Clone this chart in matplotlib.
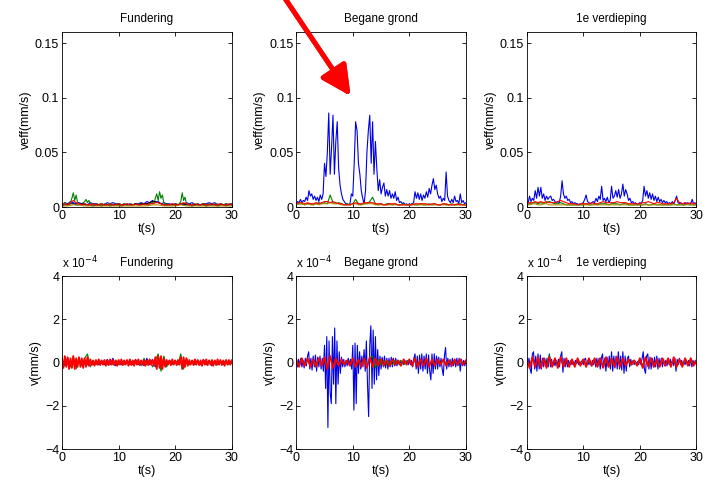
import matplotlib
matplotlib.use("Agg")
import matplotlib.pyplot as plt
import numpy as np

plt.rcParams['font.family'] = ['Liberation Sans', 'DejaVu Sans']

titles = ["Fundering", "Begane grond", "1e verdieping"]
t_max = 30

# ---------------- top row: veff (mm/s) ----------------
fund_veff_blue = [0.002, 0.004, 0.003, 0.005, 0.004, 0.003, 0.004, 0.003, 0.003, 0.002,
                  0.004, 0.003, 0.003, 0.002, 0.003, 0.002, 0.004, 0.003, 0.004, 0.003,
                  0.003, 0.002, 0.003, 0.002, 0.003, 0.002, 0.003, 0.003, 0.004, 0.003,
                  0.005, 0.004, 0.006, 0.004, 0.005, 0.003, 0.004, 0.003, 0.003, 0.002,
                  0.003, 0.002, 0.003, 0.002, 0.004, 0.003, 0.004, 0.002, 0.003, 0.002,
                  0.003, 0.003, 0.004, 0.003, 0.004, 0.002, 0.003, 0.002, 0.003, 0.002, 0.003]
fund_veff_green = [0.002, 0.003, 0.004, 0.003, 0.002, 0.003, 0.004,
                   0.008, 0.013, 0.006, 0.011, 0.004,
                   0.003, 0.002, 0.003, 0.004, 0.005, 0.007, 0.004, 0.006, 0.003,
                   0.002, 0.003, 0.002, 0.002, 0.003, 0.002, 0.003, 0.002, 0.002, 0.003,
                   0.002, 0.002, 0.003, 0.002, 0.003, 0.002, 0.002, 0.003, 0.002, 0.002,
                   0.003, 0.002, 0.002, 0.003, 0.002, 0.003, 0.002, 0.002, 0.003, 0.002,
                   0.002, 0.003, 0.002, 0.003, 0.002, 0.002, 0.003, 0.002, 0.003, 0.003,
                   0.002, 0.003, 0.003, 0.004, 0.003,
                   0.008, 0.012, 0.006, 0.014, 0.008, 0.011, 0.004,
                   0.003, 0.002, 0.003, 0.002, 0.002, 0.003, 0.002, 0.002, 0.003, 0.002, 0.003,
                   0.005, 0.013, 0.006, 0.009, 0.003,
                   0.002, 0.003, 0.002, 0.002, 0.003, 0.002, 0.002, 0.003, 0.002, 0.002,
                   0.003, 0.002, 0.003, 0.002, 0.002, 0.003, 0.002, 0.002, 0.003, 0.002,
                   0.002, 0.003, 0.002, 0.002, 0.003, 0.002, 0.002, 0.003, 0.002, 0.002,
                   0.003, 0.002]
fund_veff_black = [0.001, 0.002, 0.002, 0.003, 0.003, 0.002, 0.002, 0.003, 0.002, 0.002,
                   0.002, 0.001, 0.002, 0.002, 0.001, 0.002, 0.002, 0.001, 0.002, 0.002,
                   0.002, 0.001, 0.002, 0.002, 0.002, 0.002, 0.003, 0.002, 0.003, 0.003,
                   0.003, 0.004, 0.005, 0.005, 0.004, 0.003, 0.002, 0.002, 0.002, 0.002,
                   0.002, 0.002, 0.003, 0.003, 0.002, 0.002, 0.001, 0.002, 0.002, 0.002,
                   0.002, 0.001, 0.002, 0.002, 0.002, 0.001, 0.002, 0.002, 0.001, 0.002, 0.002]
fund_veff_olive = [0.001, 0.001, 0.002, 0.002, 0.001, 0.001, 0.001, 0.001, 0.001, 0.001,
                   0.001, 0.001, 0.001, 0.001, 0.001, 0.001, 0.002, 0.002, 0.001, 0.001,
                   0.001, 0.002, 0.001, 0.001, 0.001, 0.001, 0.001, 0.001, 0.001, 0.001, 0.001]
fund_veff_red = [0.002, 0.003, 0.002, 0.004, 0.006, 0.004, 0.003, 0.002, 0.003, 0.002,
                 0.002, 0.003, 0.002, 0.002, 0.003, 0.002, 0.002, 0.003, 0.002, 0.002,
                 0.003, 0.002, 0.002, 0.003, 0.002, 0.002, 0.003, 0.002, 0.002, 0.003,
                 0.002, 0.003, 0.003, 0.004, 0.004, 0.003, 0.002, 0.002, 0.002, 0.003,
                 0.002, 0.002, 0.003, 0.004, 0.003, 0.002, 0.002, 0.003, 0.002, 0.002,
                 0.003, 0.002, 0.002, 0.003, 0.002, 0.002, 0.003, 0.002, 0.002, 0.003, 0.002]

bg_veff_blue = [0.003, 0.005, 0.004, 0.007, 0.004, 0.006, 0.005, 0.009, 0.006, 0.015,
                0.010, 0.012, 0.007, 0.010, 0.006, 0.009, 0.005, 0.011, 0.007, 0.012,
                0.040, 0.028, 0.050, 0.086, 0.030, 0.055, 0.084, 0.030, 0.060, 0.078,
                0.035, 0.020, 0.012, 0.007, 0.005, 0.003, 0.003, 0.002, 0.003, 0.012,
                0.010, 0.040, 0.078, 0.070, 0.040, 0.030, 0.015, 0.008, 0.003, 0.015,
                0.050, 0.070, 0.084, 0.040, 0.078, 0.030, 0.060, 0.035, 0.015, 0.025,
                0.012, 0.018, 0.022, 0.010, 0.016, 0.010, 0.015, 0.008, 0.012, 0.008,
                0.014, 0.006, 0.009, 0.004, 0.005, 0.003, 0.004, 0.002, 0.003, 0.002,
                0.003, 0.002, 0.003, 0.004, 0.014, 0.008, 0.013, 0.007, 0.012, 0.006,
                0.011, 0.008, 0.014, 0.009, 0.017, 0.012, 0.020, 0.026, 0.016, 0.020,
                0.012, 0.008, 0.010, 0.005, 0.008, 0.006, 0.032, 0.010, 0.006, 0.004,
                0.007, 0.004, 0.010, 0.005, 0.006, 0.003, 0.012, 0.004, 0.006, 0.003, 0.004]
bg_veff_green = [0.002, 0.003, 0.003, 0.002, 0.003, 0.003, 0.002, 0.003, 0.004, 0.003,
                 0.004, 0.003, 0.011, 0.004, 0.003, 0.004, 0.003, 0.002, 0.003, 0.002,
                 0.003, 0.007, 0.003, 0.002, 0.003, 0.003, 0.005, 0.009, 0.003, 0.002,
                 0.003, 0.002, 0.003, 0.003, 0.002, 0.003, 0.002, 0.002, 0.003, 0.002,
                 0.002, 0.003, 0.002, 0.002, 0.003, 0.002, 0.002, 0.003, 0.002, 0.003,
                 0.002, 0.002, 0.003, 0.002, 0.002, 0.003, 0.002, 0.002, 0.003, 0.002, 0.002]
bg_veff_olive = [0.002, 0.003, 0.003, 0.002, 0.003, 0.002, 0.002, 0.003, 0.002, 0.003,
                 0.003, 0.003, 0.004, 0.003, 0.003, 0.003, 0.002, 0.002, 0.002, 0.002,
                 0.003, 0.003, 0.002, 0.002, 0.003, 0.003, 0.003, 0.003, 0.002, 0.002,
                 0.002, 0.002, 0.002, 0.002, 0.002, 0.002, 0.002, 0.002, 0.002, 0.002,
                 0.002, 0.002, 0.002, 0.002, 0.002, 0.002, 0.002, 0.002, 0.002, 0.002,
                 0.002, 0.002, 0.002, 0.002, 0.002, 0.002, 0.002, 0.002, 0.002, 0.002, 0.002]
bg_veff_red = [0.003, 0.004, 0.004, 0.003, 0.004, 0.003, 0.003, 0.004, 0.003, 0.004,
               0.005, 0.005, 0.004, 0.005, 0.004, 0.003, 0.003, 0.002, 0.002, 0.002,
               0.003, 0.004, 0.003, 0.003, 0.004, 0.004, 0.004, 0.004, 0.003, 0.003,
               0.003, 0.002, 0.002, 0.003, 0.003, 0.003, 0.002, 0.002, 0.002, 0.002,
               0.002, 0.002, 0.003, 0.003, 0.003, 0.003, 0.003, 0.002, 0.003, 0.003,
               0.002, 0.002, 0.003, 0.003, 0.002, 0.002, 0.002, 0.003, 0.002, 0.002, 0.002]

v1_veff_blue = [0.002, 0.004, 0.010, 0.005, 0.008, 0.006, 0.015, 0.008, 0.018, 0.010,
                0.018, 0.008, 0.012, 0.006, 0.010, 0.007, 0.009, 0.010, 0.006, 0.007,
                0.005, 0.004, 0.005, 0.004, 0.010, 0.024, 0.012, 0.008, 0.010, 0.006,
                0.007, 0.004, 0.005, 0.003, 0.004, 0.003, 0.003, 0.002, 0.003, 0.003,
                0.004, 0.007, 0.011, 0.005, 0.004, 0.003, 0.004, 0.005, 0.004, 0.008,
                0.005, 0.010, 0.007, 0.019, 0.006, 0.008, 0.005, 0.009, 0.004, 0.006,
                0.019, 0.008, 0.010, 0.015, 0.009, 0.016, 0.008, 0.012, 0.021, 0.010,
                0.016, 0.012, 0.006, 0.008, 0.004, 0.005, 0.003, 0.004, 0.002, 0.003,
                0.004, 0.003, 0.006, 0.019, 0.010, 0.015, 0.008, 0.013, 0.007, 0.012,
                0.006, 0.010, 0.005, 0.009, 0.005, 0.007, 0.004, 0.006, 0.004, 0.005,
                0.003, 0.004, 0.003, 0.005, 0.003, 0.006, 0.010, 0.004, 0.003, 0.004,
                0.003, 0.002, 0.004, 0.003, 0.004, 0.002, 0.003, 0.007, 0.003, 0.004, 0.002]
v1_veff_green = [0.002, 0.003, 0.003, 0.004, 0.003, 0.004, 0.003, 0.004, 0.005, 0.004,
                 0.003, 0.003, 0.004, 0.003, 0.002, 0.002, 0.002, 0.002, 0.002, 0.002,
                 0.002, 0.003, 0.002, 0.002, 0.003, 0.002, 0.003, 0.003, 0.003, 0.002,
                 0.003, 0.003, 0.003, 0.002, 0.003, 0.003, 0.002, 0.002, 0.002, 0.002,
                 0.002, 0.002, 0.003, 0.002, 0.002, 0.003, 0.002, 0.002, 0.002, 0.002,
                 0.002, 0.002, 0.003, 0.002, 0.002, 0.002, 0.002, 0.003, 0.002, 0.002, 0.002]
v1_veff_olive = [0.002, 0.002, 0.003, 0.003, 0.002, 0.002, 0.003, 0.003, 0.002, 0.002,
                 0.002, 0.002, 0.002, 0.002, 0.002, 0.002, 0.002, 0.002, 0.002, 0.002,
                 0.002, 0.002, 0.002, 0.002, 0.002, 0.002, 0.002, 0.002, 0.002, 0.002,
                 0.002, 0.002, 0.002, 0.002, 0.002, 0.002, 0.002, 0.002, 0.002, 0.002,
                 0.002, 0.002, 0.002, 0.002, 0.002, 0.002, 0.002, 0.002, 0.002, 0.002,
                 0.002, 0.002, 0.002, 0.002, 0.002, 0.002, 0.002, 0.002, 0.002, 0.002, 0.002]
v1_veff_red = [0.003, 0.004, 0.004, 0.005, 0.004, 0.005, 0.004, 0.005, 0.004, 0.004,
               0.004, 0.005, 0.006, 0.005, 0.004, 0.003, 0.003, 0.003, 0.002, 0.003,
               0.003, 0.003, 0.003, 0.004, 0.003, 0.003, 0.004, 0.005, 0.004, 0.004,
               0.004, 0.004, 0.005, 0.004, 0.004, 0.004, 0.003, 0.003, 0.003, 0.003,
               0.003, 0.004, 0.004, 0.005, 0.004, 0.003, 0.004, 0.004, 0.003, 0.003,
               0.003, 0.003, 0.004, 0.008, 0.004, 0.003, 0.004, 0.003, 0.004, 0.003, 0.003]

# ---------------- bottom row: v (x 1e-4 mm/s) ----------------
fund_v_blue = [0.1, -0.15, 0.2, -0.1, 0.15, -0.2, 0.1, -0.1, 0.15, -0.1,
               0.1, -0.1, 0.05, -0.1, 0.1, -0.1, 0.15, -0.1, 0.2, -0.15,
               0.1, -0.1, 0.1, -0.05, 0.1, -0.1, 0.15, -0.1, 0.1, -0.15,
               0.2, -0.1, 0.15, -0.2, 0.25, -0.2, 0.1, -0.1, 0.1, -0.05,
               0.1, -0.1, 0.15, -0.15, 0.1, -0.1, 0.05, -0.1, 0.1, -0.1,
               0.15, -0.1, 0.1, -0.15, 0.1, -0.1, 0.05, -0.1, 0.1, -0.05, 0.1]
fund_v_green = [0.1, -0.1, 0.15, -0.2, 0.3, -0.3, 0.2, -0.15, 0.2, 0.4,
                -0.2, 0.1, -0.1, 0.1, -0.05, 0.1, -0.1, 0.05, -0.1, 0.1,
                -0.1, 0.05, -0.1, 0.1, -0.1, 0.1, -0.05, 0.1, -0.15, 0.2,
                -0.1, 0.15, -0.2, 0.1, 0.4, -0.4, 0.3, -0.2, 0.1, -0.1,
                0.1, -0.1, 0.4, -0.3, 0.2, -0.1, 0.1, -0.05, 0.1, -0.1,
                0.05, -0.1, 0.1, -0.1, 0.05, -0.1, 0.1, -0.05, 0.1, -0.1, 0.05]
fund_v_red = [0.2, -0.25, 0.3, -0.2, 0.25, -0.3, 0.2, -0.25, 0.3, -0.3,
              0.2, -0.2, 0.25, -0.2, 0.2, -0.25, 0.2, -0.2, 0.25, -0.15,
              0.15, -0.12, 0.1, -0.15, 0.12, -0.1, 0.15, -0.12, 0.1, -0.1,
              0.12, -0.15, 0.1, -0.12, 0.15, -0.1, 0.12, -0.12, 0.1, -0.15,
              0.12, -0.1, 0.15, -0.12, 0.1, -0.1, 0.12, -0.15, 0.15, -0.12,
              0.1, -0.15, 0.12, -0.1, 0.15, -0.12, 0.1, -0.1, 0.12, -0.15,
              0.1, -0.12, 0.15, -0.1, 0.12, -0.15,
              0.25, -0.3, 0.3, -0.25, 0.3, -0.3, 0.2, -0.2,
              0.12, -0.1, 0.1, -0.12, 0.15, -0.1, 0.1, -0.12, 0.12, -0.1,
              0.25, -0.3, 0.25, -0.2, 0.2, -0.15,
              0.12, -0.1, 0.1, -0.12, 0.15, -0.1, 0.12, -0.12, 0.1, -0.15,
              0.12, -0.1, 0.15, -0.12, 0.1, -0.1, 0.12, -0.15, 0.1, -0.12,
              0.15, -0.1, 0.12, -0.12, 0.1, -0.15, 0.12, -0.1, 0.12, -0.1, 0.1]

bg_v_blue = [0.1, -0.2, 0.15, -0.1, 0.2, -0.2, 0.1, -0.25, 0.2, -0.15,
             0.3, 0.5, -0.3, 0.2, -0.35, 0.3, -0.2, 0.35, -0.4, 0.25,
             -0.2, 0.3, -0.3, 0.2, -0.4, 0.8, -1.2, 1.2, -3.0, 1.0,
             -1.4, -1.9, 1.2, -1.0, 1.6, -1.9, 1.0, -1.0, 0.5, -0.5,
             0.25, -0.2, 0.15, -0.2, 0.1, -0.15, 0.2, -0.1, 0.15, -0.3,
             0.8, -2.2, 0.9, -1.9, 0.8, -0.5, 0.5, -0.3, 0.3, -0.2,
             0.6, -0.4, 1.0, -1.0, -2.5, 0.8, 1.7, -1.2, 1.5, -1.0,
             1.2, -0.8, 0.6, -0.6, 0.3, -0.3, 0.25, -0.2, 0.3, -0.25,
             0.2, -0.3, 0.2, -0.2, 0.25, -0.2, 0.2, -0.15, 0.2, -0.15,
             0.1, -0.1, 0.1, -0.1, 0.05, -0.1, 0.1, -0.05, 0.1, -0.1,
             0.1, -0.1, 0.1, -0.2, 0.2, 0.4, -0.3, 0.3, -0.5, 0.35,
             -0.3, 0.4, -0.4, 0.3, -0.3, 0.4, -0.5, 0.35, -0.4, -0.8,
             0.4, -0.5, 0.4, -0.3, 0.3, -0.3, 0.25, -0.2, 0.2, -0.3,
             -0.6, 0.3, 0.7, -0.3, 0.2, -0.2, 0.15, -0.2, 0.2, -0.15,
             0.15, -0.2, 0.2, -0.15, 0.2, -0.4, 0.15, -0.15, 0.1, -0.15, 0.1]
bg_v_green = [0.1, -0.1, 0.15, -0.1, 0.1, -0.15, 0.1, -0.1, 0.15, -0.1,
              0.15, -0.2, 0.3, -0.25, 0.2, -0.1, 0.1, -0.1, 0.05, -0.1,
              0.2, -0.2, 0.1, -0.1, 0.15, -0.15, 0.2, 0.3, -0.25, 0.15,
              -0.1, 0.1, -0.1, 0.05, -0.1, 0.1, -0.05, 0.1, -0.1, 0.05,
              0.1, -0.1, 0.1, -0.1, 0.15, -0.1, 0.1, -0.1, 0.05, -0.1,
              0.1, -0.1, 0.1, -0.05, 0.1, -0.1, 0.05, -0.1, 0.1, -0.05, 0.05]
bg_v_red = [0.15, -0.2, 0.2, -0.15, 0.2, -0.2, 0.15, -0.2, 0.2, -0.15,
            0.25, -0.3, 0.3, -0.25, 0.2, -0.15, 0.15, -0.1, 0.1, -0.15,
            0.2, -0.2, 0.15, -0.2, 0.2, -0.25, 0.25, -0.2, 0.2, -0.15,
            0.15, -0.15, 0.1, -0.15, 0.15, -0.1, 0.1, -0.15, 0.15, -0.1,
            0.15, -0.15, 0.2, -0.2, 0.15, -0.15, 0.2, -0.2, 0.15, -0.15,
            0.15, -0.1, 0.15, -0.15, 0.1, -0.15, 0.15, -0.1, 0.15, -0.1, 0.1]

v1_v_blue = [0.1, -0.1, 0.2, -0.3, -0.5, 0.4, 0.5, -0.3, 0.3, -0.4,
             0.4, -0.3, 0.35, -0.3, 0.2, -0.2, 0.2, -0.15, 0.2, -0.2,
             0.4, -0.2, 0.15, -0.15, 0.1, -0.15, 0.1, -0.1, 0.15, -0.2,
             0.3, 0.5, -0.45, 0.2, -0.2, 0.15, -0.2, 0.1, -0.1, 0.1,
             -0.1, 0.05, -0.1, 0.1, -0.05, 0.05, -0.1, 0.05, -0.05, 0.1,
             -0.1, 0.15, 0.2, -0.15, 0.1, -0.1, 0.1, -0.15, 0.1, -0.1,
             0.15, -0.2, 0.2, -0.15, 0.2, -0.3, 0.2, 0.4, -0.2, 0.2,
             -0.4, 0.25, -0.2, 0.3, -0.3, 0.5, -0.4, 0.3, -0.25, 0.3,
             -0.3, 0.5, -0.3, 0.3, -0.35, 0.5, -0.5, 0.3, -0.4, 0.2,
             0.3, -0.2, 0.15, -0.1, 0.1, -0.1, 0.05, -0.05, 0.05, -0.1,
             0.1, -0.1, 0.2, 0.5, -0.3, -0.5, 0.3, 0.4, -0.3, 0.25,
             -0.3, 0.2, -0.2, 0.25, -0.2, 0.3, -0.3, 0.2, -0.15, 0.2,
             -0.2, 0.15, -0.15, 0.1, -0.15, 0.1, -0.1, 0.15, -0.1, 0.1,
             -0.15, 0.2, -0.4, 0.15, -0.1, 0.2, -0.1, 0.1, -0.1, 0.05,
             -0.1, 0.1, -0.05, 0.1, -0.15, 0.2, -0.2, 0.1, -0.1, 0.1, -0.1]
v1_v_green = [0.1, -0.1, 0.15, -0.15, 0.2, -0.15, 0.15, -0.1, 0.35, -0.15,
              0.1, -0.1, 0.15, -0.1, 0.1, -0.1, 0.05, -0.1, 0.1, -0.05,
              0.1, -0.1, 0.05, -0.1, 0.1, -0.1, 0.1, -0.1, 0.15, -0.1,
              0.1, -0.15, 0.1, -0.1, 0.15, -0.1, 0.05, -0.1, 0.1, -0.05,
              0.1, -0.1, 0.15, -0.1, 0.1, -0.1, 0.05, -0.1, 0.1, -0.1,
              0.05, -0.1, 0.1, -0.15, 0.1, -0.05, 0.1, -0.1, 0.05, -0.1, 0.05]
v1_v_red = [0.2, -0.25, 0.25, -0.2, 0.25, -0.25, 0.2, -0.25, 0.25, -0.2,
            0.2, -0.25, 0.25, -0.2, 0.2, -0.2, 0.15, -0.2, 0.2, -0.15,
            0.15, -0.2, 0.2, -0.15, 0.2, -0.2, 0.2, -0.25, 0.25, -0.2,
            0.2, -0.2, 0.25, -0.2, 0.2, -0.15, 0.15, -0.1, 0.1, -0.15,
            0.2, -0.25, 0.25, -0.2, 0.2, -0.2, 0.15, -0.2, 0.2, -0.15,
            0.2, -0.2, 0.25, -0.2, 0.15, -0.2, 0.2, -0.15, 0.2, -0.15, 0.1]

c_blue, c_green, c_red, c_black, c_olive = "#0000e6", "#008000", "#ff0000", "#000000", "#b09000"

top_series = [
    [(fund_veff_blue, c_blue), (fund_veff_green, c_green), (fund_veff_black, c_black),
     (fund_veff_olive, c_olive), (fund_veff_red, c_red)],
    [(bg_veff_blue, c_blue), (bg_veff_green, c_green), (bg_veff_olive, c_olive),
     (bg_veff_red, c_red)],
    [(v1_veff_blue, c_blue), (v1_veff_green, c_green), (v1_veff_olive, c_olive),
     (v1_veff_red, c_red)],
]
bottom_series = [
    [(fund_v_blue, c_blue), (fund_v_green, c_green), (fund_v_red, c_red)],
    [(bg_v_blue, c_blue), (bg_v_green, c_green), (bg_v_red, c_red)],
    [(v1_v_blue, c_blue), (v1_v_green, c_green), (v1_v_red, c_red)],
]

fig = plt.figure(figsize=(7.07, 4.86), dpi=100)
lefts = [0.0877, 0.419, 0.745]
w = 0.240


def style(ax):
    ax.set_xlim(0, t_max)
    ax.set_xticks([0, 10, 20, 30])
    ax.tick_params(direction="in", length=3, width=0.6, top=True, right=True,
                   labelsize=9, pad=2)
    for s in ax.spines.values():
        s.set_linewidth(0.6)
    ax.set_xlabel("t(s)", fontsize=9, labelpad=1)


for i in range(3):
    ax = fig.add_axes([lefts[i], 0.574, w, 0.360])
    for vals, col in top_series[i]:
        t = np.linspace(0, t_max, len(vals))
        ax.plot(t, vals, color=col, lw=0.8)
    style(ax)
    ax.set_ylim(0, 0.16)
    ax.set_yticks([0, 0.05, 0.1, 0.15])
    ax.set_yticklabels(["0", "0.05", "0.1", "0.15"])
    ax.set_ylabel("veff(mm/s)", fontsize=9, labelpad=2)
    ax.set_title(titles[i], fontsize=8.5, pad=7)

    ax = fig.add_axes([lefts[i], 0.076, w, 0.356])
    for vals, col in bottom_series[i]:
        t = np.linspace(0, t_max, len(vals))
        ax.plot(t, vals, color=col, lw=1.3 if col == c_red else 0.8)
    style(ax)
    ax.set_ylim(-4, 4)
    ax.set_yticks([-4, -2, 0, 2, 4])
    ax.set_ylabel("v(mm/s)", fontsize=9, labelpad=2)
    ax.set_title(titles[i], fontsize=8.5, pad=7)
    ax.text(0.0, 1.03, r"x 10$^{-4}$", transform=ax.transAxes, fontsize=8.5,
            ha="left", va="bottom")

# red arrow pointing at the Begane grond peaks
fig.add_artist(plt.annotate("", xy=(0.498, 0.798), xycoords="figure fraction",
                            xytext=(0.400, 1.01), textcoords="figure fraction",
                            arrowprops=dict(arrowstyle="-|>,head_length=0.9,head_width=0.45",
                                            color="#ff0000", lw=3.5, mutation_scale=20)))

fig.savefig("out.png", dpi=100, facecolor="white")
